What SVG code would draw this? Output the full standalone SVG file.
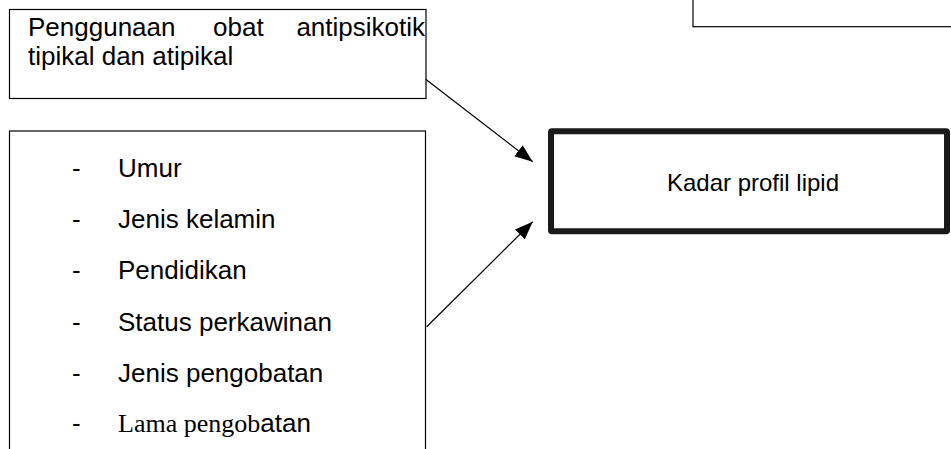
<svg xmlns="http://www.w3.org/2000/svg" width="951" height="449" viewBox="0 0 951 449">
<style>
.box{fill:#fff;stroke:#000;stroke-width:1.2}
.thick{fill:#fff;stroke:#1a1a1a;stroke-width:6;stroke-linejoin:round}
.t{font-family:"Liberation Sans",Arial,sans-serif;font-size:26px;fill:#000}
.k{font-family:"Liberation Sans",Arial,sans-serif;font-size:24px;fill:#000}
.s{font-family:"Liberation Serif","Times New Roman",serif;font-size:26px;fill:#000}
.c{stroke:#000;stroke-width:1.2;fill:none}
</style>
<defs>
<marker id="ah" markerUnits="userSpaceOnUse" markerWidth="20" markerHeight="16" refX="18" refY="7" orient="auto">
<path d="M0,0 L18,7 L0,14 z" fill="#000"/>
</marker>
</defs>
<rect width="951" height="449" fill="#fff"/>
<g id="node-topright">
<rect class="box" x="693" y="-10" width="300" height="36.7"/>
</g>
<g id="node-obat">
<rect class="box" x="9.5" y="9.5" width="416.5" height="89"/>
<text class="t" x="28" y="36">Penggunaan</text>
<text class="t" x="213" y="36">obat</text>
<text class="t" x="425" y="36" text-anchor="end">antipsikotik</text>
<text class="t" x="28" y="65">tipikal dan atipikal</text>
</g>
<g id="node-faktor">
<rect class="box" x="9.5" y="131" width="416" height="400"/>
<g class="t">
<text x="72" y="177">-</text><text x="118" y="177">Umur</text>
<text x="72" y="228">-</text><text x="118" y="228">Jenis kelamin</text>
<text x="72" y="279">-</text><text x="118" y="279">Pendidikan</text>
<text x="72" y="330.5">-</text><text x="118" y="330.5">Status perkawinan</text>
<text x="72" y="381.5">-</text><text x="118" y="381.5">Jenis pengobatan</text>
<text x="72" y="432">-</text>
</g>
<text x="118" y="432"><tspan class="s">Lama pengob</tspan><tspan class="t">atan</tspan></text>
</g>
<g id="node-kadar">
<rect class="thick" x="551" y="131.3" width="396" height="100" rx="1"/>
<text class="k" x="753" y="190.7" text-anchor="middle">Kadar profil lipid</text>
</g>
<g id="connectors">
<line class="c" x1="425.7" y1="79.3" x2="532.7" y2="161.7" marker-end="url(#ah)"/>
<line class="c" x1="426.7" y1="326.7" x2="532.7" y2="221.7" marker-end="url(#ah)"/>
</g>
</svg>
